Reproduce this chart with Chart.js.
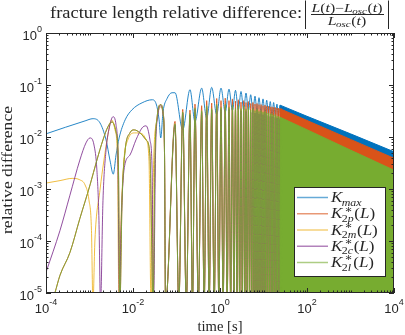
<!DOCTYPE html>
<html><head><meta charset="utf-8">
<script src="https://cdn.jsdelivr.net/npm/chart.js@4/dist/chart.umd.min.js"></script>
<style>html,body{margin:0;padding:0;background:#fff;}#wrap{width:405px;height:335px;}</style>
</head><body><div id="wrap"><canvas id="c" width="405" height="335"></canvas></div>
<script>
// ---------------- data ----------------
const DIP = 6e-6; // curve dips to ~0 (below the axis floor)
const xTickExp = [-4, -2, 0, 2, 4];
const yTickExp = [0, -1, -2, -3, -4, -5];
const seriesNames = ['K_{max}', 'K^*_{2p}(L)', 'K^*_{2m}(L)', 'K^*_{2c}(L)', 'K^*_{2l}(L)'];
const seriesColors = ['#0072BD', '#D95319', '#EDB120', '#7E2F8E', '#77AC30'];

const blueEarly = [[1e-4,0.0115],[7.9e-4,0.0204],[1.2e-3,0.0225],[1.74e-3,0.0187],[2.4e-3,0.0088],[2.95e-3,0.0036],[3.52e-3,0.00193],[4.07e-3,0.0045],[4.8e-3,0.0096],[6.6e-3,0.0214],[9.5e-3,0.0334],[0.0162,0.0455],[0.0275,0.052],[0.034,0.0435],[0.0398,0.0214],[0.0434,0.0096],[0.049,0.0305],[0.0605,0.0546],[0.079,0.071]];
const greenEarly = [[1e-4,3e-6],[1.6e-4,1e-5],[2.1e-4,2.2e-5],[3.55e-4,6e-5],[6e-4,2.7e-4],[1.03e-3,1.2e-3],[1.48e-3,3.6e-3],[2.04e-3,8.8e-3],[2.65e-3,0.0157],[3.29e-3,0.0195],[4.07e-3,0.0125],[4.6e-3,3.6e-3],[5.0e-3,DIP],[5.6e-3,6e-4],[6.6e-3,5.6e-3],[8.5e-3,0.012],[0.0106,0.0137],[0.0145,0.012],[0.02,8.8e-3],[0.0245,4.5e-3],[0.029,DIP],[0.032,4e-3],[0.036,0.025],[0.0434,0.042],[0.049,0.03],[0.053,5e-3]];
const redEarly = [[1e-4,3e-6],[1.6e-4,1e-5],[2.1e-4,2.2e-5],[3.55e-4,6e-5],[6e-4,2.7e-4],[1.03e-3,1.2e-3],[1.48e-3,3.6e-3],[2.04e-3,8.8e-3],[2.65e-3,0.0157],[3.29e-3,0.0195],[4.07e-3,0.0125],[4.6e-3,3.6e-3],[5.0e-3,DIP],[5.6e-3,6e-4],[6.6e-3,5.6e-3],[8.5e-3,0.012],[0.0106,0.0137],[0.0145,0.012],[0.02,8.8e-3],[0.0245,4.5e-3],[0.029,DIP],[0.032,4e-3],[0.036,0.025],[0.0434,0.042],[0.049,0.03],[0.053,5e-3]];
const purpleEarly = [[1e-4,2.5e-5],[2.1e-4,1.6e-4],[3.55e-4,7.6e-4],[6e-4,3.6e-3],[8.3e-4,7.7e-3],[1.03e-3,9.6e-3],[1.27e-3,7e-3],[1.48e-3,2.3e-3],[1.65e-3,2.5e-4],[1.79e-3,DIP],[2.04e-3,6e-4],[2.4e-3,5.6e-3],[2.95e-3,0.0171],[3.47e-3,0.0245],[4.07e-3,0.0171],[4.5e-3,3.6e-3],[4.9e-3,DIP],[5.3e-3,1.6e-4],[6.2e-3,2.3e-3],[8.5e-3,4.5e-3],[0.0117,8.8e-3],[0.0162,0.015],[0.02,0.0164],[0.0245,8.8e-3],[0.0275,2.3e-3],[0.0296,DIP],[0.033,5e-3],[0.037,0.025],[0.0434,0.04],[0.049,0.028],[0.053,5e-3]];
const yellowEarly = [[1e-4,1.3e-3],[2.1e-4,1.45e-3],[4e-4,1.6e-3],[6e-4,1.5e-3],[7.9e-4,1.2e-3],[9.7e-4,6.2e-4],[1.11e-3,1.6e-4],[1.2e-3,DIP],[1.33e-3,1e-4],[1.74e-3,9.5e-4],[2.15e-3,3.6e-3],[2.65e-3,0.011],[3.2e-3,0.0214],[3.86e-3,0.0137],[4.4e-3,3.6e-3],[4.75e-3,DIP],[5.3e-3,2.5e-4],[6.2e-3,3.6e-3],[7.6e-3,8.8e-3],[0.011,0.012],[0.0162,0.0115],[0.02,8.8e-3],[0.0233,3.6e-3],[0.026,DIP],[0.03,4e-3],[0.035,0.02],[0.0434,0.038],[0.049,0.027],[0.053,5e-3]];

// oscillating part: times where the curves dip to zero, and times of the extrema between them
const oscZeroT = [0.056,0.113,0.168,0.233,0.318,0.433,0.564,0.736,0.941,1.18,1.46,1.76,2.09,2.45,2.83,3.26,3.72,4.22,4.78,5.38,6.03,6.73,7.48,8.33,9.26,10.3,11.3,12.4,13.6,15.0,16.4,17.9,19.5,21.2,22.9,24.9,27.0];
const oscPeakT = [0.0925,0.139,0.204,0.266,0.379,0.494,0.644,0.84,1.055,1.32,1.61,1.93,2.27,2.64,3.04,3.5,3.96,4.5,5.08,5.7,6.38,7.1,7.88,8.8,9.75,10.8,11.85,13.0,14.3,15.7,17.1,18.7,20.4,22.0,23.9,26.0];
const blueOscV = [0.071,0.0138,0.081,0.0198,0.087,0.023,0.09,0.027,0.087,0.03,0.083,0.032,0.079,0.033,0.075,0.033,0.07,0.032,0.065,0.031,0.061,0.03,0.057,0.029,0.054,0.028,0.051,0.027,0.048,0.026,0.046,0.025,0.043,0.024,0.041,0.023];
const redPeakV = [0.02,0.034,0.033,0.043,0.04,0.05,0.045,0.055,0.05,0.056,0.05,0.054,0.049,0.052,0.047,0.05,0.046,0.048,0.044,0.046,0.043,0.044,0.042,0.042,0.04,0.041,0.039,0.039,0.038,0.038,0.037,0.037,0.036,0.036,0.035,0.035];
const yellowPeakV = [0.016,0.027,0.025,0.032,0.029,0.036,0.032,0.038,0.033,0.037,0.033,0.036,0.032,0.035,0.031,0.034,0.03,0.032,0.029,0.031,0.028,0.029,0.027,0.028,0.026,0.027,0.025,0.025,0.024,0.024,0.023,0.023,0.022,0.022,0.021,0.021];
const purplePeakV = [0.017,0.029,0.026,0.034,0.03,0.037,0.033,0.039,0.034,0.038,0.034,0.037,0.033,0.036,0.032,0.035,0.031,0.033,0.03,0.032,0.029,0.03,0.028,0.029,0.027,0.028,0.026,0.026,0.025,0.025,0.024,0.024,0.023,0.023,0.022,0.022];
const greenPeakV = [0.018,0.03,0.028,0.036,0.032,0.04,0.035,0.042,0.037,0.042,0.037,0.041,0.036,0.04,0.035,0.039,0.034,0.037,0.033,0.035,0.032,0.034,0.031,0.032,0.03,0.031,0.029,0.029,0.028,0.028,0.026,0.027,0.025,0.025,0.024,0.023];

// late part: oscillations too dense to resolve -> upper envelopes of the solid bands
const blueEnv  = [[24,0.041],[100,0.025],[1000,0.0115],[1e4,0.0052]];
const redEnv   = [[24,0.035],[100,0.0208],[1000,0.009],[1e4,0.0039]];
const greenEnv = [[24,0.024],[100,0.0138],[1000,0.0056],[1e4,0.0023]];

// ---------------- build datasets ----------------
const P = ([t, v]) => ({x: t, y: v});
function oscSeries(early, peaks) {
  const pts = early.map(P);
  for (let i = 0; i < peaks.length; i++) {
    pts.push({x: oscZeroT[i], y: DIP});
    pts.push({x: oscPeakT[i], y: peaks[i]});
  }
  pts.push({x: oscZeroT[peaks.length], y: DIP});
  return pts;
}
function blueSeries() {
  const pts = blueEarly.map(P);
  oscPeakT.forEach((t, i) => pts.push({x: t, y: blueOscV[i]}));
  return pts;
}
function rgba(hex, a) {
  const n = parseInt(hex.slice(1), 16);
  return `rgba(${n >> 16},${(n >> 8) & 255},${n & 255},${a})`;
}
const LA = 0.85;
const lineDs = (data, col, order) => ({data, borderColor: rgba(col, LA), borderWidth: 1, fill: false, order});
const envDs = (data, col, order) => ({data: data.map(P), borderColor: col, backgroundColor: col, borderWidth: 1, fill: 'start', order});

const datasets = [
  envDs(blueEnv, seriesColors[0], 20),
  lineDs(blueSeries(), seriesColors[0], 19),
  envDs(redEnv, seriesColors[1], 18),
  lineDs(oscSeries(redEarly, redPeakV), seriesColors[1], 17),
  lineDs(oscSeries(yellowEarly, yellowPeakV), seriesColors[2], 15),
  lineDs(oscSeries(purpleEarly, purplePeakV), seriesColors[3], 14),
  envDs(greenEnv, seriesColors[4], 13),
  lineDs(oscSeries(greenEarly, greenPeakV), seriesColors[4], 12),
];

// ---------------- text helpers ----------------
const SERIF = '"Liberation Serif", "DejaVu Serif", serif';
const SANS = '"Liberation Sans", Arial, sans-serif';
const TXT = '#262626';
function parseTex(s) {
  const out = []; let i = 0;
  const group = () => { if (s[i] === '{') { const j = s.indexOf('}', i); const g = s.slice(i + 1, j); i = j + 1; return g; } return s[i++]; };
  while (i < s.length) {
    const c = s[i];
    if (c === '^' || c === '_') {
      i++; const g = group();
      let last = out[out.length - 1];
      if (!last || last.type !== 'script') { last = {type: 'script', sup: '', sub: ''}; out.push(last); }
      if (c === '^') last.sup = g; else last.sub = g;
    } else { out.push({type: 'ch', s: c}); i++; }
  }
  return out;
}
function chars(ctx, str, x, y, size, draw) {
  let cx = x;
  for (const ch of str) {
    const it = /[A-Za-z]/.test(ch);
    ctx.font = (it ? 'italic ' : '') + size + 'px ' + SERIF;
    if (draw) ctx.fillText(ch, cx, y);
    cx += ctx.measureText(ch).width;
  }
  return cx - x;
}
function tex(ctx, s, x, y, size, draw = true) {
  let cx = x; const ss = size * 0.7;
  for (const p of parseTex(s)) {
    if (p.type === 'ch') cx += chars(ctx, p.s, cx, y, size, draw);
    else {
      const w1 = p.sup ? chars(ctx, p.sup === '*' ? '\u2217' : p.sup, cx + size * 0.12, y - size * 0.36, ss, draw) + size * 0.12 : 0;
      const w2 = p.sub ? chars(ctx, p.sub, cx - size * 0.04, y + size * 0.24, ss, draw) - size * 0.04 : 0;
      cx += Math.max(w1, w2) + size * 0.04;
    }
  }
  return cx - x;
}
// draw text stretched horizontally (Computer-Modern-like width) with its left edge at x
function stretched(ctx, x, y, sx, fn) {
  ctx.save(); ctx.translate(x, y); ctx.scale(sx, 1); fn(); ctx.restore();
}
function pow10(ctx, e, x, y, align) {
  ctx.font = '13px ' + SANS; const w1 = ctx.measureText('10').width;
  const es = String(e);
  ctx.font = '9px ' + SANS; const w2 = ctx.measureText(es).width;
  const x0 = align === 'right' ? x - w1 - w2 : x - (w1 + w2) / 2;
  ctx.textBaseline = 'middle';
  ctx.font = '13px ' + SANS; ctx.fillText('10', x0, y + 3.5);
  ctx.font = '9px ' + SANS; ctx.fillText(es, x0 + w1, y - 3.5);
}

const decor = {
  id: 'decor',
  afterDraw(chart) {
    const {ctx, chartArea: a, scales: {x, y}} = chart;
    ctx.save();
    ctx.strokeStyle = TXT; ctx.lineWidth = 1;
    ctx.strokeRect(a.left + 0.5, a.top + 0.5, a.right - a.left - 1, a.bottom - a.top - 1);
    const seg = (x1, y1, x2, y2) => { ctx.beginPath(); ctx.moveTo(x1, y1); ctx.lineTo(x2, y2); ctx.stroke(); };
    // x ticks (inward, top and bottom)
    for (let e = -4; e <= 4; e++) for (let m = 1; m <= 9; m++) {
      const v = m * Math.pow(10, e); if (v > 1e4 * 1.0001) break;
      const px = Math.round(x.getPixelForValue(v)) + 0.5;
      const len = (m === 1 && xTickExp.includes(e)) ? 5 : 2.5;
      seg(px, a.bottom, px, a.bottom - len); seg(px, a.top, px, a.top + len);
    }
    for (let e = -5; e <= 0; e++) for (let m = 1; m <= 9; m++) {
      const v = m * Math.pow(10, e); if (v > 1.0001) break;
      const py = Math.round(y.getPixelForValue(v)) + 0.5;
      const len = m === 1 ? 5 : 2.5;
      seg(a.left, py, a.left + len, py); seg(a.right, py, a.right - len, py);
    }
    // tick labels
    ctx.fillStyle = TXT;
    xTickExp.forEach(e => pow10(ctx, e, x.getPixelForValue(Math.pow(10, e)), a.bottom + 13, 'center'));
    yTickExp.forEach(e => pow10(ctx, e, a.left - 4, y.getPixelForValue(Math.pow(10, e)), 'right'));
    // axis titles
    ctx.textBaseline = 'alphabetic'; ctx.textAlign = 'left';
    ctx.font = '14px ' + SERIF;
    const xt = 'time [s]', wxt = ctx.measureText(xt).width, sxt = 45 / wxt;
    stretched(ctx, (a.left + a.right) / 2 - 22.5, 331, sxt, () => ctx.fillText(xt, 0, 0));
    ctx.font = '14px ' + SERIF;
    const yt = 'relative difference', wyt = ctx.measureText(yt).width, syt = 128 / wyt;
    ctx.save(); ctx.translate(12, 170 + 64); ctx.rotate(-Math.PI / 2);
    ctx.scale(syt, 1); ctx.fillText(yt, 0, 0); ctx.restore();
    // title
    ctx.font = '16.5px ' + SERIF;
    const tt = 'fracture length relative difference:', wtt = ctx.measureText(tt).width;
    stretched(ctx, 50, 17.5, 252 / wtt, () => { ctx.font = '16.5px ' + SERIF; ctx.fillText(tt, 0, 0); });
    ctx.strokeStyle = TXT; ctx.lineWidth = 1;
    seg(305.5, 0.5, 305.5, 29); seg(388.5, 0.5, 388.5, 29);
    seg(311, 14.5, 384, 14.5);
    const num = 'L(t)\u2212L_{osc}(t)', den = 'L_{osc}(t)';
    const fs = 12;
    const wn = tex(ctx, num, 0, 0, fs, false), wd = tex(ctx, den, 0, 0, fs, false);
    const sf = 71 / wn;
    stretched(ctx, 347 - 71 / 2, 11.5, sf, () => tex(ctx, num, 0, 0, fs));
    stretched(ctx, 347 - wd * sf / 2, 24.5, sf, () => tex(ctx, den, 0, 0, fs));
    // legend
    const lx = 294, ly = 187, lw = 92, lh = 90;
    ctx.fillStyle = '#fff'; ctx.fillRect(lx, ly, lw, lh);
    ctx.strokeStyle = TXT; ctx.strokeRect(lx + 0.5, ly + 0.5, lw - 1, lh - 1);
    seriesNames.forEach((name, i) => {
      const cy = 197.5 + 16.25 * i;
      ctx.strokeStyle = rgba(seriesColors[i], 0.6); ctx.lineWidth = 1.5;
      seg(297, cy, 328, cy);
      ctx.fillStyle = TXT;
      stretched(ctx, 331, cy + 4.5, 1.1, () => tex(ctx, name, 0, 0, 15.5));
    });
    ctx.restore();
  }
};

new Chart(document.getElementById('c'), {
  type: 'line',
  data: {datasets},
  options: {
    responsive: false, animation: false, devicePixelRatio: 1,
    layout: {padding: {left: 46, top: 33, right: 11, bottom: 42}},
    plugins: {legend: {display: false}, title: {display: false}, tooltip: {enabled: false}},
    elements: {point: {radius: 0}, line: {tension: 0.4, cubicInterpolationMode: 'monotone'}},
    scales: {
      x: {type: 'logarithmic', min: 1e-4, max: 1e4, display: false},
      y: {type: 'logarithmic', min: 1e-5, max: 1, display: false}
    }
  },
  plugins: [decor]
});
</script></body></html>
